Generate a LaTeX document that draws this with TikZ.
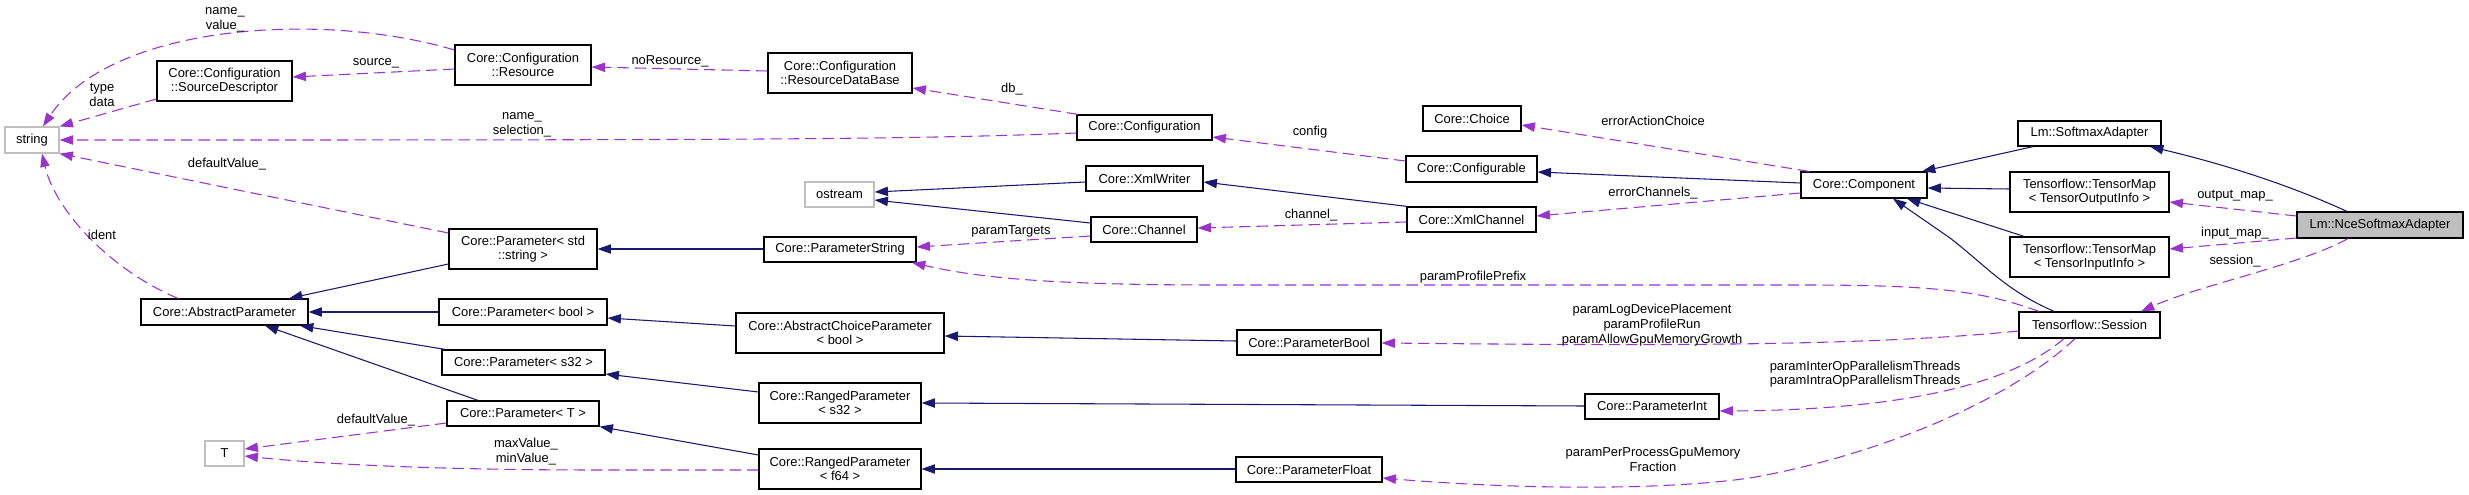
\documentclass[tikz,border=0pt]{standalone}
\usepackage{fontspec}
\setmainfont{Liberation Sans}
\usetikzlibrary{arrows.meta}
\definecolor{inhblue}{HTML}{191970}
\definecolor{usepurple}{HTML}{9A32CD}
\definecolor{boxgray}{HTML}{BFBFBF}
\newcommand\dxfont{\fontsize{9.7}{11}\selectfont}
\tikzset{
  cls/.style={draw=black, line width=0.9pt, fill=white, align=center, inner sep=1pt, font=\dxfont},
  ext/.style={cls, draw=boxgray},
  bw/.style={minimum width=#1*0.75pt},
  bh/.style={minimum height=#1*0.75pt},
  inhedge/.style={draw=inhblue, line width=0.8pt, -{Triangle[length=10pt,width=7pt]}},
  usedge/.style={draw=usepurple, line width=0.8pt, dash pattern=on 8.5pt off 4.5pt, -{Triangle[length=10pt,width=7pt]}},
  lbl/.style={align=center, inner sep=0pt, font=\dxfont}
}
\begin{document}
\begin{tikzpicture}[x=0.75pt,y=-0.75pt]
\useasboundingbox (0,0) rectangle (2469,495);
% nodes
\node[ext,bw=54,bh=26] (string) at (32,140) {string};
\node[cls,bw=135,bh=40] (srcdesc) at (224.5,81) {Core::Configuration\\::SourceDescriptor};
\node[cls,bw=136,bh=40] (resource) at (523,65) {Core::Configuration\\::Resource};
\node[cls,bw=148,bh=40] (pstdstring) at (523,249) {Core::Parameter< std\\::string >};
\node[cls,bw=144,bh=40] (resdb) at (840,73) {Core::Configuration\\::ResourceDataBase};
\node[cls,bw=135,bh=25] (configuration) at (1144.5,127.5) {Core::Configuration};
\node[ext,bw=69,bh=25] (ostream) at (839.5,194.5) {ostream};
\node[cls,bw=117,bh=25] (xmlwriter) at (1144.5,178.5) {Core::XmlWriter};
\node[cls,bw=106,bh=25] (channel) at (1144,229.5) {Core::Channel};
\node[cls,bw=152,bh=25] (paramstring) at (840,249.5) {Core::ParameterString};
\node[cls,bw=98,bh=25] (choice) at (1472,118.5) {Core::Choice};
\node[cls,bw=131,bh=26] (configurable) at (1471.5,169) {Core::Configurable};
\node[cls,bw=129,bh=25] (xmlchannel) at (1471.5,219.5) {Core::XmlChannel};
\node[cls,bw=126,bh=26] (component) at (1864,185) {Core::Component};
\node[cls,bw=143,bh=25] (softmax) at (2089.5,133.5) {Lm::SoftmaxAdapter};
\node[cls,bw=159,bh=40] (tmout) at (2089.5,192) {Tensorflow::TensorMap\\< TensorOutputInfo >};
\node[cls,bw=159,bh=40] (tmin) at (2089.5,257) {Tensorflow::TensorMap\\< TensorInputInfo >};
\node[cls,fill=boxgray,bw=166,bh=26] (nce) at (2380,225) {Lm::NceSoftmaxAdapter};
\node[cls,bw=141,bh=26] (session) at (2089.5,325) {Tensorflow::Session};
\node[cls,bw=167,bh=26] (absparam) at (224.5,312) {Core::AbstractParameter};
\node[cls,bw=168,bh=26] (pbool) at (523,312) {Core::Parameter< bool >};
\node[cls,bw=163,bh=25] (ps32) at (523.5,362.5) {Core::Parameter< s32 >};
\node[cls,bw=152,bh=25] (pT) at (523,413.5) {Core::Parameter< T >};
\node[ext,bw=39,bh=25] (T) at (224.5,453.5) {T};
\node[cls,bw=208,bh=40] (acp) at (840,333) {Core::AbstractChoiceParameter\\< bool >};
\node[cls,bw=162,bh=40] (rs32) at (840,403) {Core::RangedParameter\\< s32 >};
\node[cls,bw=162,bh=40] (rf64) at (840,469) {Core::RangedParameter\\< f64 >};
\node[cls,bw=144,bh=25] (pboolc) at (1309,342.5) {Core::ParameterBool};
\node[cls,bw=134,bh=25] (pint) at (1652,406.5) {Core::ParameterInt};
\node[cls,bw=146,bh=25] (pfloat) at (1309,469.5) {Core::ParameterFloat};
% inheritance edges
\draw[inhedge] (softmax.south -| 2033,0) -- (component.north -| 1922,0);
\draw[inhedge] (tmout.west |- 0,189) -- (component.east |- 0,188);
\draw[inhedge] (tmin.north -| 2024,0) -- (component.south -| 1907,0);
\draw[inhedge] (session.north -| 2054,0) .. controls (2005,290) and (1985,265) .. (1950,238) -- (component.south -| 1893,0);
\draw[inhedge] (nce.north -| 2347,0) .. controls (2300,190) and (2240,168) .. (softmax.south -| 2150,0);
\draw[inhedge] (component.west |- 0,183) -- (configurable.east |- 0,172);
\draw[inhedge] (xmlchannel.north -| 1407,0) -- (xmlwriter.east |- 0,182);
\draw[inhedge] (xmlwriter.west |- 0,182) -- (ostream.east |- 0,192);
\draw[inhedge] (channel.west |- 0,223) -- (ostream.east |- 0,200);
\draw[inhedge] (paramstring.west |- 0,249) -- (pstdstring.east |- 0,249);
\draw[inhedge] (pstdstring.west |- 0,264) -- (absparam.north -| 289,0);
\draw[inhedge] (pbool.west |- 0,312) -- (absparam.east |- 0,312);
\draw[inhedge] (ps32.north -| 445,0) -- (absparam.south -| 300,0);
\draw[inhedge] (pT.north -| 478,0) -- (absparam.south -| 265,0);
\draw[inhedge] (acp.west |- 0,326) -- (pbool.east |- 0,318);
\draw[inhedge] (rs32.west |- 0,392) -- (ps32.east |- 0,374);
\draw[inhedge] (rf64.west |- 0,455) -- (pT.south east);
\draw[inhedge] (pboolc.west |- 0,341) -- (acp.east |- 0,336);
\draw[inhedge] (pint.west |- 0,406) -- (rs32.east |- 0,403);
\draw[inhedge] (pfloat.west |- 0,469) -- (rf64.east |- 0,469);
% usage edges
\draw[usedge] (resource.west |- 0,50) .. controls (320,10) and (110,25) .. (string.north -| 43,0);
\draw[usedge] (srcdesc.west |- 0,99) -- (string.north east);
\draw[usedge] (resource.west |- 0,69) -- (srcdesc.east |- 0,77);
\draw[usedge] (resdb.west |- 0,71) -- (resource.east |- 0,67);
\draw[usedge] (configuration.north -| 1078,0) -- (resdb.east |- 0,88);
\draw[usedge] (configuration.west |- 0,133) .. controls (900,140) and (700,140) .. (string.east |- 0,140);
\draw[usedge] (configurable.west |- 0,161) -- (configuration.east |- 0,137);
\draw[usedge] (component.north -| 1809,0) -- (choice.east |- 0,125);
\draw[usedge] (component.west |- 0,193) -- (xmlchannel.east |- 0,216);
\draw[usedge] (xmlchannel.west |- 0,222) -- (channel.east |- 0,228);
\draw[usedge] (channel.west |- 0,236) -- (paramstring.east |- 0,247);
\draw[usedge] (pstdstring.west |- 0,233) -- (string.south east);
\draw[usedge] (absparam.north -| 178,0) .. controls (110,270) and (55,210) .. (string.south -| 42,0);
\draw[usedge] (session.north -| 2039,0) .. controls (1980,290) and (1930,285) .. (1800,285) -- (1220,285) .. controls (1050,285) and (980,278) .. (paramstring.south -| 912,0);
\draw[usedge] (session.west |- 0,331) .. controls (1850,348) and (1600,345) .. (pboolc.east |- 0,343);
\draw[usedge] (session.south -| 2064,0) .. controls (2010,385) and (1900,410) .. (pint.east |- 0,411);
\draw[usedge] (session.south -| 2075,0) .. controls (2010,400) and (1880,455) .. (1750,478) .. controls (1650,492) and (1500,488) .. (pfloat.east |- 0,478);
\draw[usedge] (nce.west |- 0,216) -- (tmout.east |- 0,202);
\draw[usedge] (nce.west |- 0,238) -- (tmin.east |- 0,249);
\draw[usedge] (nce.south -| 2348,0) .. controls (2300,265) and (2200,285) .. (session.north -| 2141,0);
\draw[usedge] (pT.west |- 0,423) -- (T.east |- 0,449);
\draw[usedge] (rf64.west |- 0,470) -- (600,470) .. controls (450,470) and (330,465) .. (T.east |- 0,456);
% labels
\node[lbl] (l1) at (225,19.5) {name\_\\value\_};
\node[lbl] (l2) at (376,63) {source\_};
\node[lbl] (l3) at (102,95) {type\\data};
\node[lbl] (l4) at (670,61) {noResource\_};
\node[lbl] (l5) at (1012,89) {db\_};
\node[lbl] (l6) at (522,124.5) {name\_\\selection\_};
\node[lbl] (l7) at (1310,132) {config};
\node[lbl] (l8) at (1653,121) {errorActionChoice};
\node[lbl] (l9) at (1653,193) {errorChannels\_};
\node[lbl] (l10) at (1311,215) {channel\_};
\node[lbl] (l11) at (1011,231) {paramTargets};
\node[lbl] (l12) at (227,164) {defaultValue\_};
\node[lbl] (l13) at (102,235) {ident};
\node[lbl] (l14) at (2235,196) {output\_map\_};
\node[lbl] (l15) at (2235,233) {input\_map\_};
\node[lbl] (l16) at (2235,261) {session\_};
\node[lbl] (l17) at (1473,277) {paramProfilePrefix};
\node[lbl] (l18) at (1652,325) {paramLogDevicePlacement\\paramProfileRun\\paramAllowGpuMemoryGrowth};
\node[lbl] (l19) at (1865,374) {paramInterOpParallelismThreads\\paramIntraOpParallelismThreads};
\node[lbl] (l20) at (1653,459.5) {paramPerProcessGpuMemory\\Fraction};
\node[lbl] (l21) at (376,420) {defaultValue\_};
\node[lbl] (l22) at (526,451.5) {maxValue\_\\minValue\_};
\end{tikzpicture}
\end{document}
